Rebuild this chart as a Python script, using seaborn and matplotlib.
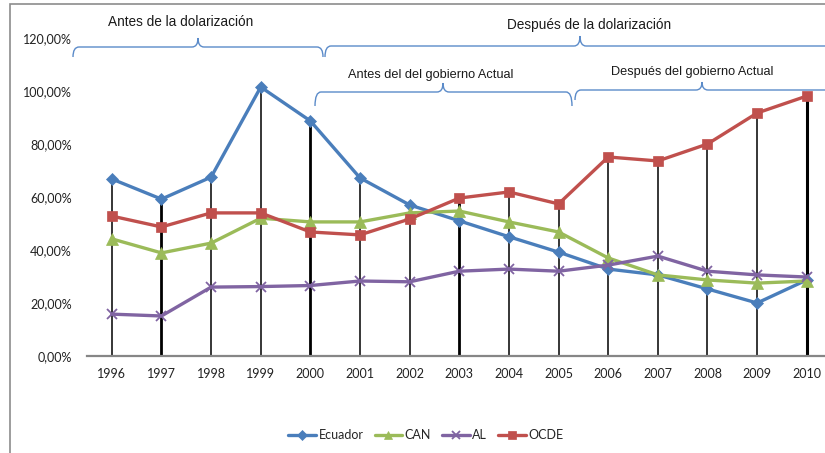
import matplotlib
matplotlib.use("Agg")
import matplotlib.pyplot as plt
import seaborn as sns
import numpy as np
import pandas as pd
from matplotlib.path import Path
from matplotlib.patches import PathPatch, Rectangle

years = [1996, 1997, 1998, 1999, 2000, 2001, 2002, 2003, 2004, 2005, 2006, 2007, 2008, 2009, 2010]
ecuador = [66.8, 59.2, 67.5, 101.5, 88.7, 67.2, 57.0, 51.0, 45.0, 39.2, 32.8, 30.6, 25.3, 20.0, 28.7]
can = [44.2, 38.9, 42.6, 52.0, 50.6, 50.6, 54.0, 54.7, 50.6, 46.8, 37.0, 30.6, 28.7, 27.5, 28.3]
al = [15.8, 15.1, 26.0, 26.2, 26.6, 28.3, 28.0, 32.0, 32.8, 32.0, 34.3, 37.7, 32.0, 30.6, 29.8]
ocde = [52.8, 48.7, 54.0, 54.0, 46.8, 45.7, 51.7, 59.6, 61.9, 57.4, 75.1, 73.6, 80.0, 91.7, 98.1]
series_names = ["Ecuador", "CAN", "AL", "OCDE"]
y_ticks = [0, 20, 40, 60, 80, 100, 120]
y_tick_labels = ["0,00%", "20,00%", "40,00%", "60,00%", "80,00%", "100,00%", "120,00%"]
period_labels = ["Antes de la dolarización", "Después de la dolarización",
                 "Antes del del gobierno Actual", "Después del gobierno Actual"]

sns.set_theme(style="white")
plt.rcParams['font.family'] = ['Lato', 'DejaVu Sans']

W, H = 825, 453
fig = plt.figure(figsize=(W / 100, H / 100), dpi=100)
ax = fig.add_axes([87 / W, (H - 356) / H, (W - 87) / W, (356 - 38) / H])

df = pd.DataFrame({
    "year": years * 4,
    "value": ecuador + can + al + ocde,
    "serie": sum([[n] * len(years) for n in series_names], []),
})

styles = {
    "Ecuador": dict(color="#4A7EBB", marker="D", ms=6),
    "CAN": dict(color="#9BBB59", marker="^", ms=8),
    "AL": dict(color="#8064A2", marker="x", ms=7),
    "OCDE": dict(color="#C0504D", marker="s", ms=7.5),
}

# drop lines from highest point to axis
tops = df.groupby("year")["value"].max().reindex(years).values
widths = [1.1, 2.0, 1.1, 1.1, 2.0, 1.1, 1.1, 2.0, 1.1, 1.1, 1.1, 1.1, 1.1, 1.1, 2.2]
for yr, tp, lw in zip(years, tops, widths):
    ax.vlines(yr, 0, tp, color="black", lw=lw, zorder=1)

for name in series_names:
    st = styles[name]
    sub = df[df["serie"] == name]
    sns.lineplot(data=sub, x="year", y="value", ax=ax, color=st["color"],
                 marker=st["marker"], markersize=st["ms"], markeredgecolor=st["color"],
                 markeredgewidth=1.3 if st["marker"] == "x" else 0.5,
                 linewidth=2.4, label=name, zorder=3)

ax.set_xlim(1995.5, 1995.5 + (W - 87) / 49.64)
ax.set_ylim(0, 120)
ax.set_xticks(years)
ax.set_xticklabels([str(y) for y in years], fontsize=9, color="#222222")
ax.set_yticks(y_ticks)
ax.set_yticklabels(y_tick_labels, fontsize=9, color="#222222")
ax.tick_params(axis="both", length=0)
ax.tick_params(axis="y", pad=11)
ax.tick_params(axis="x", pad=9)
ax.set_xlabel("")
ax.set_ylabel("")
for s in ["top", "right", "left"]:
    ax.spines[s].set_visible(False)
ax.spines["bottom"].set_color("#868686")
ax.spines["bottom"].set_linewidth(1.6)
ax.grid(False)

handles, labels = ax.get_legend_handles_labels()
ax.get_legend().remove()
leg = fig.legend(handles, labels, loc="center", bbox_to_anchor=(426 / W, 1 - 435 / H), ncol=4,
                 frameon=False, fontsize=9, handlelength=2.2, columnspacing=0.9,
                 handletextpad=0.2, markerscale=0.8)

# outer chart frame
fig.patches.append(Rectangle((10 / W, -0.2), 1.2, 1.2 - 4 / H, transform=fig.transFigure,
                             fill=False, edgecolor="#8C8C8C", lw=1.2, zorder=0))


def brace(x0, x1, y, xm, yend, ypeak, r=6):
    fx = lambda v: v / W
    fy = lambda v: 1 - v / H
    verts = [
        (fx(x0), fy(yend)), (fx(x0), fy(y)), (fx(x0 + r), fy(y)),
        (fx(xm - r), fy(y)),
        (fx(xm), fy(y)), (fx(xm), fy(ypeak)),
        (fx(xm), fy(y)), (fx(xm + r), fy(y)),
        (fx(x1 - r), fy(y)),
        (fx(x1), fy(y)), (fx(x1), fy(yend)),
    ]
    codes = [Path.MOVETO, Path.CURVE3, Path.CURVE3, Path.LINETO,
             Path.CURVE3, Path.CURVE3, Path.CURVE3, Path.CURVE3,
             Path.LINETO, Path.CURVE3, Path.CURVE3]
    fig.patches.append(PathPatch(Path(verts, codes), transform=fig.transFigure,
                                 fill=False, edgecolor="#5B8BC9", lw=1.0))


brace(73, 323, 47, 198, 57, 38)
brace(325, 900, 46, 580, 57, 36)
brace(315, 572, 92, 443, 106, 83)
brace(575, 900, 90, 702, 100, 82)

tfont = dict(family=["Liberation Sans", "DejaVu Sans"], color="#1a1a1a", ha="center", va="center")
fig.text(181 / W, 1 - 22 / H, period_labels[0], fontsize=9.8, **tfont)
fig.text(589 / W, 1 - 25 / H, period_labels[1], fontsize=9.8, **tfont)
fig.text(431 / W, 1 - 75 / H, period_labels[2], fontsize=9.2, **tfont)
fig.text(692 / W, 1 - 72 / H, period_labels[3], fontsize=9.2, **tfont)

fig.savefig("out.png", dpi=100)
